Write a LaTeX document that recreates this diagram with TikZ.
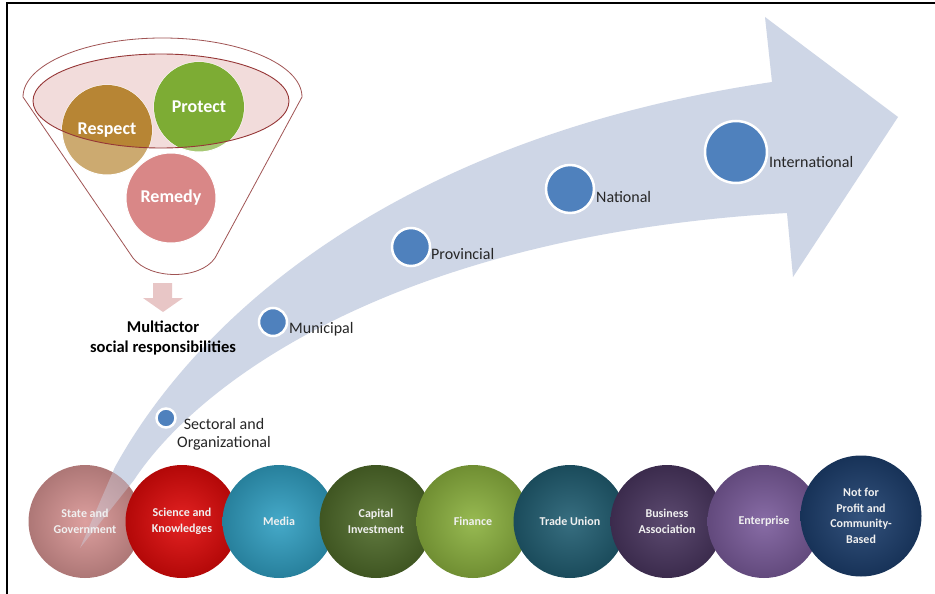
\documentclass[tikz,border=0pt]{standalone}
\usepackage{fontspec}
\setmainfont{Carlito}
\definecolor{arrowc}{HTML}{CED6E6}
\definecolor{funnelline}{HTML}{A05454}
\definecolor{ellfill}{HTML}{F2DCDB}
\definecolor{ellline}{HTML}{963737}
\definecolor{respD}{HTML}{B78534}
\definecolor{respL}{HTML}{CCAA70}
\definecolor{protD}{HTML}{7DAC34}
\definecolor{protL}{HTML}{A6C873}
\definecolor{remL}{HTML}{D98787}
\definecolor{downc}{HTML}{E8C6C6}
\definecolor{bluec}{HTML}{4F81BD}
\definecolor{cA}{HTML}{D99594}
\definecolor{cB}{HTML}{E00A0A}
\definecolor{cC}{HTML}{31A0C3}
\definecolor{cD}{HTML}{4F6B2A}
\definecolor{cE}{HTML}{8CB23F}
\definecolor{cF}{HTML}{215E72}
\definecolor{cG}{HTML}{4A3660}
\definecolor{cH}{HTML}{7B5C9C}
\definecolor{cI}{HTML}{1D3F6E}
\tikzset{
  fcirc/.style={circle, minimum size=90pt, inner sep=0pt, draw=white, line width=1pt},
  ftext/.style={text=white, font=\fontsize{18}{20}\selectfont\bfseries},
  bcirc/.style={circle, inner sep=0pt, fill=bluec, draw=white, line width=2.5pt, minimum size=#1},
  lbl/.style={inner sep=0pt, text=black!85, font=\fontsize{16}{18}\selectfont},
  orb/.style={circle, minimum size=113pt, inner sep=0pt, inner color=#1!90!white, outer color=#1!80!black},
  orbtext/.style={align=center, text=white!94!black, font=\fontsize{12}{15.5}\selectfont\bfseries}
}
\begin{document}
\begin{tikzpicture}[x=1pt,y=-1pt]
\useasboundingbox (0,0) rectangle (935,594);
\fill[white] (0,0) rectangle (935,594);
% frame
\draw[line width=2.5pt] (7,594) -- (7,2.8) -- (935,2.8);
% big curved arrow
\fill[arrowc] (80,548) -- (115,467) .. controls (190,330) and (380,140) .. (772,82) -- (765,17) -- (898,117) -- (793,277) -- (787,213) .. controls (400,235) and (200,380) .. (134,480) -- cycle;
% funnel
\draw[funnelline, line width=0.8pt, fill=white] (23,97) arc[start angle=180, end angle=360, x radius=139.5, y radius=59] -- (215,258) .. controls (200,280) and (150,280) .. (133,258) -- cycle;
\fill[ellfill] (161,101) ellipse[x radius=128, y radius=47];
\node[fcirc, fill=respL] (respect) at (107,130) {};
\node[fcirc, fill=protL] (protect) at (199,107) {};
\begin{scope}
  \clip (161,101) ellipse[x radius=128, y radius=47];
  \fill[respD] (respect.center) circle[radius=45];
  \fill[protD] (protect.center) circle[radius=45];
\end{scope}
\node[fcirc, fill=remL] (remedy) at (171,198) {};
\draw[ellline, line width=0.9pt] (161,101) ellipse[x radius=128, y radius=47];
\node[ftext] at (respect.center) {Respect};
\node[ftext] at (protect.center) {Protect};
\node[ftext] at (remedy.center) {Remedy};
% down arrow and caption
\fill[downc] (153,283) -- (172,283) -- (172,298) -- (183,298) -- (163,312) -- (143,298) -- (153,298) -- cycle;
\node[align=center, font=\fontsize{16.5}{20.5}\selectfont\bfseries] (multi) at (163,338) {Multiactor\\social responsibilities};
% level markers
\node[bcirc=19pt] (sect) at (166,418) {};
\node[bcirc=28pt] (muni) at (273,322) {};
\node[bcirc=38pt] (prov) at (411,247) {};
\node[bcirc=48pt] (nat) at (570,189) {};
\node[bcirc=62pt] (intl) at (736,152) {};
\node[lbl, align=center] (sectl) at (224,434) {Sectoral and\\Organizational};
\node[lbl, anchor=west] (munil) at (289,329) {Municipal};
\node[lbl, anchor=west] (provl) at (431,254) {Provincial};
\node[lbl, anchor=west] (natl) at (596,197) {National};
\node[lbl, anchor=west] (intll) at (769,162) {International};
% actor circles
\node[orb=cA] (s1) at (85,521.5) {};
\node[orb=cB] (s2) at (182,521.5) {};
\node[orb=cC] (s3) at (279,521.5) {};
\node[orb=cD] (s4) at (376,521.5) {};
\node[orb=cE] (s5) at (473,521.5) {};
\node[orb=cF] (s6) at (570,521.5) {};
\node[orb=cG] (s7) at (667,521.5) {};
\node[orb=cH] (s8) at (764,521.5) {};
\node[orb=cI, minimum size=121pt] (s9) at (861,516) {};
\begin{scope}
  \clip (s1.center) circle[radius=56.5];
  \fill[arrowc, fill opacity=0.4] (80,548) -- (115,467) .. controls (190,330) and (380,140) .. (772,82) -- (765,17) -- (898,117) -- (793,277) -- (787,213) .. controls (400,235) and (200,380) .. (134,480) -- cycle;
\end{scope}
\node[orbtext] at (s1.center) {State and\\Government};
\node[orbtext] at (s2.center) {Science and\\Knowledges};
\node[orbtext] at (s3.center) {Media};
\node[orbtext] at (s4.center) {Capital\\Investment};
\node[orbtext] at (s5.center) {Finance};
\node[orbtext] at (s6.center) {Trade Union};
\node[orbtext] at (s7.center) {Business\\Association};
\node[orbtext] at (s8.center) {Enterprise};
\node[orbtext] at (s9.center) {Not for\\Profit and\\Community-\\Based};
\end{tikzpicture}
\end{document}
